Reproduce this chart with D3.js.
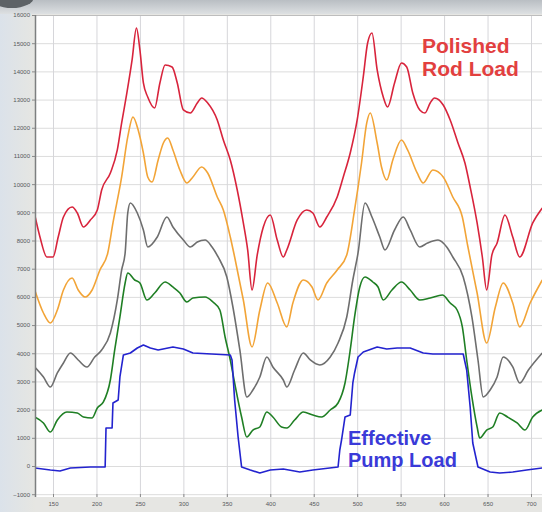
<!DOCTYPE html>
<html>
<head>
<meta charset="utf-8">
<script src="https://cdn.jsdelivr.net/npm/d3@7/dist/d3.min.js"></script>
<style>
  body { margin: 0; background: #e4e6e8; }
  svg { display: block; }
</style>
</head>
<body>
<svg width="542" height="512"></svg>
<script>
// load traces: [position, load]
var polishedRod = [[129,8905],[135,8125],[143,7415],[150,7415],[156,8125],[162,8835],[172,9189],[178,8976],[185,8480],[193,8728],[201,9083],[206,9792],[216,10396],[224,11212],[229,12170],[235,13234],[241,14405],[246,15540],[250,14760],[254,13589],[259,13092],[267,12702],[273,13589],[279,14227],[287,14157],[293,13589],[300,12631],[308,12524],[316,12879],[321,13057],[328,12879],[339,12276],[346,11566],[354,10857],[362,9792],[369,8622],[374,7664],[379,6244],[385,7490],[392,8480],[400,8905],[408,8018],[415,7415],[419,7664],[431,8728],[442,9083],[449,8976],[457,8480],[465,8835],[477,9544],[484,10254],[492,11105],[500,12276],[507,13802],[512,15008],[517,15363],[523,14050],[530,13092],[535,12737],[543,13589],[551,14298],[557,14157],[564,13234],[572,12631],[578,12524],[584,12879],[589,13057],[599,12808],[607,12276],[616,11460],[624,10750],[630,9899],[638,8622],[644,7415],[649,6244],[655,7490],[661,7912],[670,8905],[679,8125],[687,7415],[702,8622],[713,9154]];

var orangeLoad = [[129,6244],[139,5428],[147,5073],[155,5535],[162,6244],[172,6670],[179,6244],[187,5996],[195,6244],[204,6954],[213,7557],[219,8622],[229,10254],[236,11673],[242,12383],[248,11921],[254,11105],[259,10254],[264,10076],[271,10857],[277,11460],[282,11637],[288,11212],[296,10502],[304,10041],[311,10254],[321,10609],[328,10396],[339,9544],[346,9083],[354,8125],[359,7415],[369,5890],[379,4222],[388,5535],[397,6493],[408,5783],[419,4932],[426,5783],[438,6599],[448,6351],[455,5890],[465,6493],[477,6954],[488,7486],[497,9083],[505,10750],[511,12170],[515,12524],[523,11460],[528,10609],[534,10147],[541,10857],[551,11566],[558,11212],[569,10396],[576,10041],[587,10502],[599,10254],[610,9544],[621,8835],[627,7841],[638,6138],[649,4364],[659,5641],[668,6493],[679,5783],[687,4932],[699,5783],[713,6599]];

var grayLoad = [[129,3513],[139,3158],[147,2803],[155,3300],[162,3654],[170,4009],[179,3761],[189,3513],[198,3867],[206,4116],[216,4719],[224,5890],[229,6954],[233,7557],[236,8976],[239,9331],[247,8976],[254,8373],[259,7770],[270,8125],[281,8835],[288,8480],[300,8018],[308,7770],[316,7948],[325,8018],[333,7770],[340,7415],[350,6706],[357,5641],[365,4116],[373,2448],[380,2696],[388,3158],[396,3867],[403,3513],[415,3051],[419,2803],[428,3406],[438,4009],[446,3761],[457,3583],[469,3867],[478,4364],[488,5287],[495,6599],[501,7557],[509,9331],[517,8835],[526,8125],[532,7664],[543,8373],[553,8835],[561,8373],[572,7770],[581,7912],[593,8018],[603,7770],[610,7415],[622,6706],[632,5287],[639,3761],[645,2448],[653,2696],[661,3158],[668,3867],[679,3513],[687,2945],[697,3406],[713,4009]];

var greenLoad = [[129,1739],[139,1526],[147,1206],[155,1632],[166,1916],[178,1880],[185,1739],[195,1703],[201,2058],[208,2271],[216,3051],[221,4116],[227,5287],[233,6493],[236,6848],[244,6599],[250,6493],[258,5890],[267,6138],[279,6528],[288,6351],[296,6138],[304,5819],[311,5961],[325,5996],[334,5819],[342,5535],[348,4577],[354,3761],[359,2945],[367,1739],[373,1029],[380,1277],[388,1384],[396,1916],[403,1739],[413,1384],[419,1348],[428,1632],[438,1916],[449,1809],[459,1739],[469,1987],[478,2235],[486,2945],[492,4116],[497,5287],[503,6351],[509,6706],[518,6528],[524,6351],[530,5890],[540,6244],[551,6528],[561,6244],[572,5890],[584,5961],[598,6067],[607,5783],[615,5535],[621,4932],[626,3761],[632,2448],[638,1384],[641,993],[649,1277],[656,1384],[664,1880],[673,1739],[684,1526],[693,1277],[702,1739],[713,1987]];

var pumpLoad = [[129,-71],[147,-142],[158,-177],[170,-71],[193,-35],[210,-35],[211,1348],[218,1348],[219,2235],[225,2342],[227,3158],[231,3938],[239,4009],[247,4187],[254,4293],[262,4187],[271,4116],[288,4222],[300,4151],[311,4009],[354,3938],[356,3761],[359,2342],[363,1029],[367,-35],[377,-142],[388,-248],[400,-142],[415,-106],[434,-213],[449,-142],[478,-35],[480,568],[482,922],[486,1739],[492,1809],[495,2945],[497,3300],[501,3867],[507,4045],[523,4222],[534,4151],[546,4187],[561,4187],[576,4009],[587,3974],[622,3974],[626,3406],[630,2093],[633,816],[639,-35],[653,-213],[664,-248],[679,-213],[695,-142],[713,-71]];

var xTickValues = [150, 200, 250, 300, 350, 400, 450, 500, 550, 600, 650, 700];
var yTickValues = [-1000, 0, 1000, 2000, 3000, 4000, 5000, 6000, 7000, 8000, 9000, 10000, 11000, 12000, 13000, 14000, 15000, 16000];

var rodLabel = ["Polished", "Rod Load"];
var pumpLabel = ["Effective", "Pump Load"];

var svg = d3.select("svg"),
  W = 542, H = 512,
  plot = {left: 35, top: 15, right: 542, bottom: 497};

var x = d3.scaleLinear().domain([150, 700]).range([53, 531]),
  y = d3.scaleLinear().domain([0, 16000]).range([466, 15]);

var colors = ["#d8243c", "#f2a437", "#6e6e6e", "#1f7f24", "#2323cf"];

// page frame
var defs = svg.append("defs");
var topGrad = defs.append("linearGradient").attr("id", "topGrad")
  .attr("x1", 0).attr("y1", 0).attr("x2", 0).attr("y2", 1);
topGrad.append("stop").attr("offset", "0%").attr("stop-color", "#b9bec3");
topGrad.append("stop").attr("offset", "100%").attr("stop-color", "#dde0e2");
var leftGrad = defs.append("linearGradient").attr("id", "leftGrad");
leftGrad.append("stop").attr("offset", "0%").attr("stop-color", "#dbe2ea");
leftGrad.append("stop").attr("offset", "100%").attr("stop-color", "#e6e6e2");

svg.append("rect").attr("width", W).attr("height", H).attr("fill", "#e6e6e3");
svg.append("rect").attr("width", W).attr("height", 14).attr("fill", "url(#topGrad)");
svg.append("ellipse").attr("cx", 12).attr("cy", -3).attr("rx", 22).attr("ry", 11).attr("fill", "#5d6266");
svg.append("rect").attr("x", 0).attr("y", 14).attr("width", plot.left).attr("height", H - 14)
  .attr("fill", "url(#leftGrad)");

defs.append("clipPath").attr("id", "plotClip").append("rect")
  .attr("x", plot.left).attr("y", plot.top)
  .attr("width", plot.right - plot.left).attr("height", plot.bottom - plot.top);

svg.append("rect")
  .attr("x", plot.left).attr("y", plot.top)
  .attr("width", plot.right - plot.left).attr("height", plot.bottom - plot.top)
  .attr("fill", "#ffffff");

// grid
var grid = svg.append("g").attr("clip-path", "url(#plotClip)");
grid.selectAll(".hgrid").data(yTickValues).enter().append("line")
  .attr("x1", plot.left).attr("x2", plot.right)
  .attr("y1", function(d) { return y(d) + 0.5; }).attr("y2", function(d) { return y(d) + 0.5; })
  .attr("stroke", "#dcdcdc").attr("stroke-width", 1);
grid.selectAll(".vgrid").data(xTickValues).enter().append("line")
  .attr("y1", plot.top).attr("y2", plot.bottom)
  .attr("x1", function(d) { return x(d) + 0.5; }).attr("x2", function(d) { return x(d) + 0.5; })
  .attr("stroke", "#d6d6da").attr("stroke-width", 1);

svg.append("line").attr("x1", plot.left).attr("x2", plot.right)
  .attr("y1", plot.top + 0.5).attr("y2", plot.top + 0.5).attr("stroke", "#bdbdbd");

// traces - the rod loads are smooth, the pump load is stepped
var smoothLine = d3.line()
  .curve(d3.curveMonotoneX)
  .x(function(d) { return x(d[0]); })
  .y(function(d) { return y(d[1]); });
var stepLine = d3.line()
  .x(function(d) { return x(d[0]); })
  .y(function(d) { return y(d[1]); });

var traces = [polishedRod, orangeLoad, grayLoad, greenLoad, pumpLoad];
svg.append("g").attr("clip-path", "url(#plotClip)")
  .selectAll("path").data(traces).enter().append("path")
  .attr("d", function(d, i) { return i == 4 ? stepLine(d) : smoothLine(d); })
  .attr("fill", "none")
  .attr("stroke", function(d, i) { return colors[i]; })
  .attr("stroke-width", 1.6)
  .attr("stroke-linejoin", "round");

// axes
var yAxis = svg.append("g")
  .attr("transform", "translate(" + plot.left + ",0)")
  .call(d3.axisLeft(y).tickValues(yTickValues).tickSize(3).tickPadding(2).tickFormat(d3.format("d")));
var xAxis = svg.append("g")
  .attr("transform", "translate(0," + (plot.bottom - 3) + ")")
  .call(d3.axisBottom(x).tickValues(xTickValues).tickSize(3).tickPadding(5));
xAxis.select(".domain").remove();
yAxis.select(".domain").attr("d", "M0.5," + plot.top + "V" + plot.bottom).attr("stroke", "#7d7f80").attr("stroke-width", 1.5);
svg.selectAll(".tick line").attr("stroke", "#8a8a8a");
svg.selectAll(".tick text").attr("fill", "#55585a").style("font", "6px 'Liberation Sans', Arial, sans-serif");

// labels
svg.append("text").attr("fill", "#e2403f")
  .style("font", "bold 21px 'Liberation Sans', Arial, sans-serif")
  .selectAll("tspan").data(rodLabel).enter().append("tspan")
  .attr("x", 422).attr("y", function(d, i) { return 53 + i * 23; })
  .text(function(d) { return d; });

svg.append("text").attr("fill", "#3a3ad8")
  .style("font", "bold 20px 'Liberation Sans', Arial, sans-serif")
  .selectAll("tspan").data(pumpLabel).enter().append("tspan")
  .attr("x", 348).attr("y", function(d, i) { return 445 + i * 22; })
  .text(function(d) { return d; });
</script>
</body>
</html>
